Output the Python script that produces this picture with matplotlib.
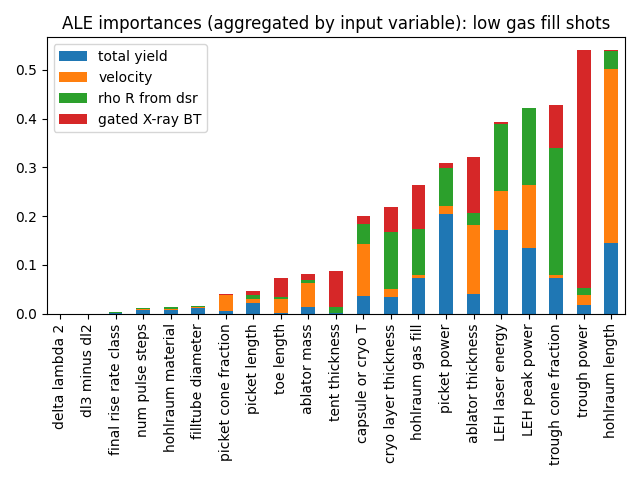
import matplotlib
matplotlib.use("Agg")
import matplotlib.pyplot as plt
import numpy as np

variables = ["delta lambda 2", "dl3 minus dl2", "final rise rate class",
             "num pulse steps", "hohlraum material", "filltube diameter",
             "picket cone fraction", "picket length", "toe length",
             "ablator mass", "tent thickness", "capsule or cryo T",
             "cryo layer thickness", "hohlraum gas fill", "picket power",
             "ablator thickness", "LEH laser energy", "LEH peak power",
             "trough cone fraction", "trough power", "hohlraum length"]

total_yield = [0.0, 0.0, 0.002, 0.008, 0.008, 0.012, 0.006, 0.022, 0.002,
               0.014, 0.001, 0.037, 0.035, 0.074, 0.205, 0.041, 0.171,
               0.135, 0.074, 0.018, 0.145]
velocity = [0.0, 0.0, 0.0, 0.002, 0.002, 0.002, 0.033, 0.008, 0.029,
            0.048, 0.0, 0.106, 0.016, 0.005, 0.016, 0.141, 0.080,
            0.128, 0.005, 0.020, 0.358]
rho_r = [0.0, 0.0, 0.002, 0.002, 0.004, 0.002, 0.0, 0.008, 0.004,
         0.008, 0.012, 0.041, 0.117, 0.094, 0.078, 0.025, 0.139,
         0.159, 0.261, 0.015, 0.035]
xray_bt = [0.0, 0.0, 0.0, 0.0, 0.0, 0.0, 0.002, 0.008, 0.039,
           0.012, 0.075, 0.016, 0.050, 0.090, 0.011, 0.114, 0.004,
           0.0, 0.088, 0.487, 0.002]

series = [("total yield", total_yield, "#1f77b4"),
          ("velocity", velocity, "#ff7f0e"),
          ("rho R from dsr", rho_r, "#2ca02c"),
          ("gated X-ray BT", xray_bt, "#d62728")]

fig, ax = plt.subplots(figsize=(6.4, 4.8), dpi=100)
x = np.arange(len(variables))
bottom = np.zeros(len(variables))
for name, vals, color in series:
    ax.bar(x, vals, 0.5, bottom=bottom, color=color, label=name)
    bottom += np.array(vals)

ax.set_xticks(x)
ax.set_xticklabels(variables, rotation=90)
ax.set_xlim(-0.5, len(variables) - 0.5)
ax.legend(loc="upper left")
ax.set_title("ALE importances (aggregated by input variable): low gas fill shots")

plt.tight_layout()
plt.savefig("out.png")
